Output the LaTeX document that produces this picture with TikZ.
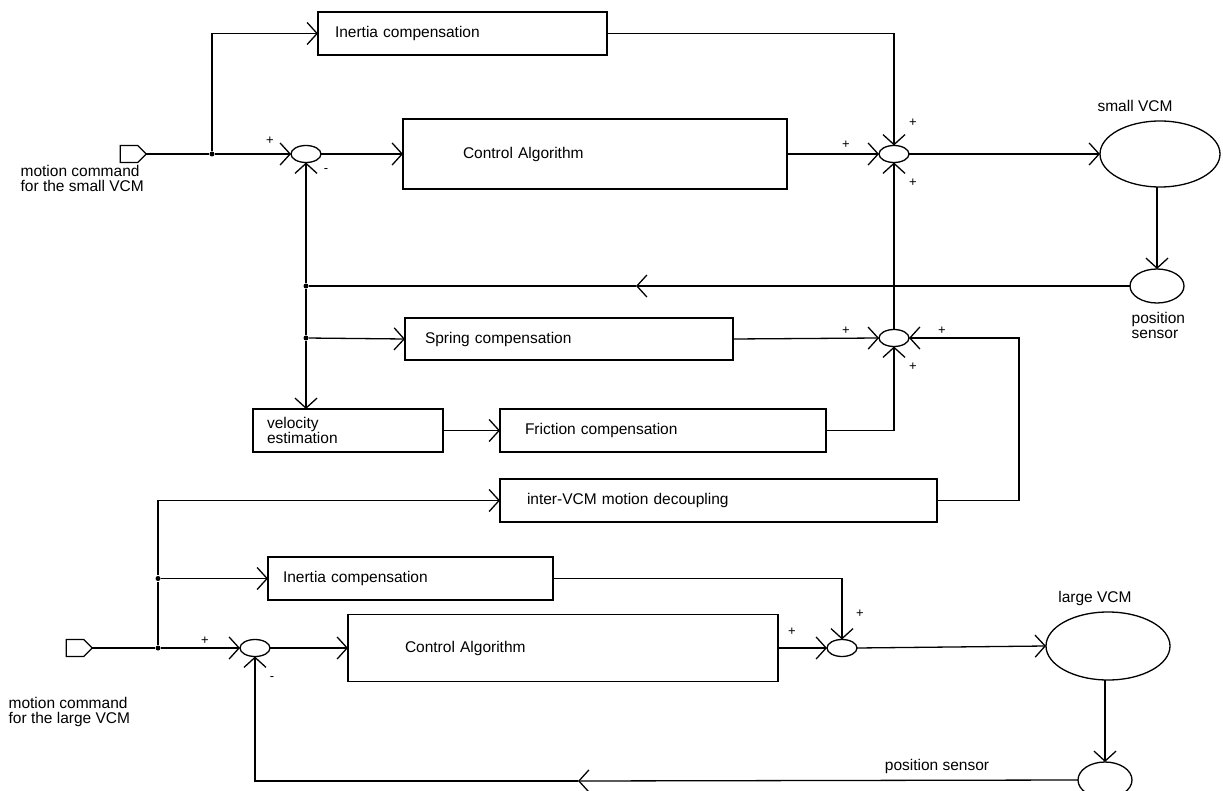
\documentclass[tikz,border=0pt]{standalone}
\usepackage{fontspec}
\setmainfont{Liberation Sans}
\usetikzlibrary{arrows.meta,shapes.geometric,shapes.symbols}
\begin{document}
\begin{tikzpicture}[x=1pt,y=-1pt,line width=1.3pt,
  >={Straight Barb[length=10pt,width=22pt]},
  every node/.style={font=\fontsize{15.5}{17}\selectfont},
  blk/.style={draw,align=left,inner ysep=0pt,outer sep=0pt},
  sum/.style={draw,ellipse,minimum width=30pt,minimum height=17pt,inner sep=0pt,outer sep=0pt},
  vcm/.style={draw,ellipse,inner sep=0pt,outer sep=0pt},
  inport/.style={draw,signal,signal to=east,minimum width=26pt,minimum height=17pt,inner sep=0pt,outer sep=0pt},
  dot/.style={circle,fill=black,inner sep=0pt,minimum size=5pt},
  sgn/.style={font=\fontsize{13}{13}\selectfont,inner sep=0pt},
  lbl/.style={align=left,inner sep=0pt,font=\fontsize{15.5}{15}\selectfont}]
\useasboundingbox (0,0) rectangle (1223,791);

% ---------- small VCM loop ----------
\node[inport] (in1) at (129,154) {};
\node[lbl,anchor=north west] (t1) at (20,165) {motion command\\for the small VCM};
\node[dot] (d1) at (212,154) {};
\node[sum] (sj1) at (306,154) {};
\node[blk,inner xsep=17pt,text width=255pt,minimum height=43pt] (intop) at (462.5,33.5) {Inertia compensation};
\node[blk,inner xsep=60pt,text width=264pt,minimum height=70pt] (ctrl) at (595,154) {Control Algorithm};
\node[sum] (sj2) at (894,154) {};
\node[vcm,minimum width=120pt,minimum height=66pt] (svcm) at (1160,154) {};
\node[inner sep=0pt] (svcmlbl) at (1135,106) {small VCM};
\node[vcm,minimum width=54pt,minimum height=34pt] (ps1) at (1157,286) {};
\node[lbl,anchor=north west] (ps1lbl) at (1131,312) {position\\sensor};
\node[dot] (d2) at (306,286) {};
\coordinate (fb1) at (636,286);
\node[dot] (d3) at (306,338) {};
\node[blk,inner xsep=20pt,text width=288pt,minimum height=42pt] (spring) at (569,339) {Spring compensation};
\node[sum] (sj3) at (894,338) {};
\node[blk,inner xsep=14pt,text width=162pt,minimum height=43pt,font=\fontsize{15.5}{15}\selectfont] (vel) at (348,430.5) {velocity\\estimation};
\node[blk,inner xsep=25pt,text width=276pt,minimum height=43pt] (fric) at (663,430.5) {Friction compensation};
\node[blk,inner xsep=27pt,text width=383pt,minimum height=43pt] (ivcm) at (718.5,500.5) {inter-VCM motion decoupling};

% signs
\node[sgn] (p1) at (270,141) {+};
\node[sgn] (m1) at (326,171) {-};
\node[sgn] (p2) at (846,145) {+};
\node[sgn] (p3) at (913,123) {+};
\node[sgn] (p4) at (913,183) {+};
\node[sgn] (p5) at (846,331) {+};
\node[sgn] (p6) at (942,331) {+};
\node[sgn] (p7) at (913,367) {+};

% connectors top
\draw (in1.east) -- (d1);
\draw[->] (d1) -- (sj1.west);
\draw[->] (d1) |- (intop.west);
\draw[->] (sj1.east) -- (ctrl.west);
\draw[->] (ctrl.east) -- (sj2.west);
\draw[->] (intop.east) -| (sj2.north);
\draw[->] (sj2.east) -- (svcm.west);
\draw[->] (svcm.south -| ps1.north) -- (ps1.north);
\draw[->] (ps1.west) -- (fb1);
\draw (fb1) -- (d2);
\draw[->] (d2) -- (sj1.south);
\draw (d2) -- (d3);
\draw[->] (d3) -- (d3 |- vel.north);
\draw[->] (d3) -- (spring.west);
\draw[->] (spring.east) -- (sj3.west);
\draw[->] (sj3.north) -- (sj2.south);
\draw[->] (vel.east) -- (fric.west);
\draw[->] (fric.east) -| (sj3.south);
\draw[->] (ivcm.east) -- ++(82,0) |- (sj3.east);

% ---------- large VCM loop ----------
\node[inport] (in2) at (75,648) {};
\node[lbl,anchor=north west] (t2) at (8,697) {motion command\\for the large VCM};
\node[dot] (d5) at (158,648) {};
\node[dot] (d4) at (158,578.5) {};
\node[sum] (sj5) at (255,648) {};
\node[blk,inner xsep=15pt,text width=255pt,minimum height=43pt] (inb) at (410.5,578.5) {Inertia compensation};
\node[blk,inner xsep=57pt,text width=316pt,minimum height=67pt] (ctrlb) at (563,648) {Control Algorithm};
\node[sum] (sj4) at (842,648) {};
\node[vcm,minimum width=124pt,minimum height=68pt] (lvcm) at (1108,646) {};
\node[inner sep=0pt] (lvcmlbl) at (1095,598) {large VCM};
\node[vcm,minimum width=54pt,minimum height=36pt] (ps2) at (1105,780) {};
\node[inner sep=0pt] (ps2lbl) at (937,766) {position sensor};
\coordinate (fb2) at (578,781);

\node[sgn] (p8) at (205,641) {+};
\node[sgn] (m2) at (272,679) {-};
\node[sgn] (p9) at (792,632) {+};
\node[sgn] (p10) at (860,614) {+};

\draw (in2.east) -- (d5);
\draw[->] (d5) -- (sj5.west);
\draw (d5) -- (d4);
\draw[->] (d4) -- (inb.west);
\draw[->] (d4) |- (ivcm.west);
\draw[->] (sj5.east) -- (ctrlb.west);
\draw[->] (ctrlb.east) -- (sj4.west);
\draw[->] (inb.east) -| (sj4.north);
\draw[->] (sj4.east) -- (lvcm.west);
\draw[->] (lvcm.south -| ps2.north) -- (ps2.north);
\draw[->] (ps2.west) -- (fb2);
\draw[->] (fb2) -| (sj5.south);
\end{tikzpicture}
\end{document}
